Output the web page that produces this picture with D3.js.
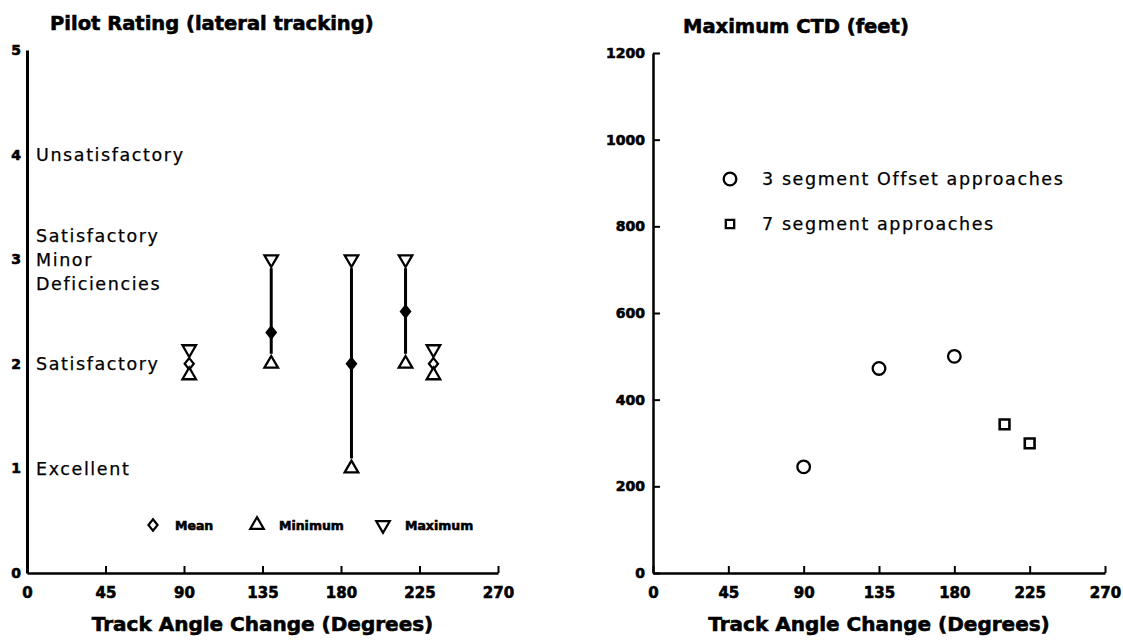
<!DOCTYPE html>
<html>
<head>
<meta charset="utf-8">
<script src="https://cdn.jsdelivr.net/npm/d3@7"></script>
<style>
  html, body { margin: 0; padding: 0; background: #fff; }
  svg { display: block; }
  .bold { font-family: "DejaVu Sans", sans-serif; font-weight: bold; fill: #000; stroke: #000; stroke-width: 0.6px; }
  .reg { font-family: "DejaVu Sans", sans-serif; fill: #000; letter-spacing: 1.6px; stroke: #000; stroke-width: 0.25px; }
</style>
</head>
<body>
<svg id="chart" width="1123" height="641"></svg>
<script>
// ---------- Data ----------
// Left chart: pilot rating (lateral tracking)
const ratingAngles = [93, 140, 186, 217, 233];
const ratingMin  = [1.89, 2, 1, 2, 1.89];
const ratingMean = [2, 2.3, 2, 2.5, 2];
const ratingMax  = [2.14, 3, 3, 3, 2.14];
const ratingTicks = [0, 1, 2, 3, 4, 5];
const ratingLevels = [4, 3, 2, 1];
const ratingNames = [["Unsatisfactory"], ["Satisfactory", "Minor", "Deficiencies"], ["Satisfactory"], ["Excellent"]];
const ratingLegend = ["Mean", "Minimum", "Maximum"];

// Right chart: maximum CTD (feet)
const offsetAngles = [90, 135, 180];
const offsetCTD = [245, 472, 500];
const sevenAngles = [210, 225];
const sevenCTD = [343, 299];
const ctdTicks = [0, 200, 400, 600, 800, 1000, 1200];
const ctdLegend = ["3 segment Offset approaches", "7 segment approaches"];

const angleTicks = [0, 45, 90, 135, 180, 225, 270];
const xTitle = "Track Angle Change (Degrees)";

// ---------- Setup ----------
const svg = d3.select("#chart");

const xL = d3.scaleLinear().domain([0, 270]).range([27, 498]);
const yL = d3.scaleLinear().domain([0, 5]).range([573, 50]);
const xR = d3.scaleLinear().domain([0, 270]).range([653, 1105]);
const yR = d3.scaleLinear().domain([0, 1200]).range([573, 53]);

const diamondType = {
  draw(ctx, size) {
    const h = Math.sqrt(size) * 0.62, w = h * 0.8;
    ctx.moveTo(0, -h); ctx.lineTo(w, 0); ctx.lineTo(0, h); ctx.lineTo(-w, 0); ctx.closePath();
  }
};
const triUp = d3.symbol().type(d3.symbolTriangle).size(80)();
const diamond = d3.symbol().type(diamondType).size(85)();
const circleSym = d3.symbol().type(d3.symbolCircle).size(125)();
const squareSym = d3.symbol().type(d3.symbolSquare).size(95)();

function styleAxis(g, fontSize, width) {
  g.attr("font-family", null).attr("font-size", null);
  g.selectAll("path.domain").attr("stroke", "#000").attr("stroke-width", width);
  g.selectAll(".tick line").attr("stroke", "#000").attr("stroke-width", 2);
  g.selectAll(".tick text").attr("class", "bold").style("font-size", fontSize + "px");
}

// ---------- Left chart ----------
const gL = svg.append("g");

const axL = gL.append("g").attr("transform", `translate(0,${yL(0)})`)
  .call(d3.axisBottom(xL).tickValues(angleTicks).tickSizeInner(-7).tickSizeOuter(0).tickPadding(14));
styleAxis(axL, 15, 2.5);

const ayL = gL.append("g").attr("transform", `translate(${xL(0)},0)`)
  .call(d3.axisLeft(yL).tickValues(ratingTicks).tickSize(0).tickPadding(6).tickFormat(d3.format("d")));
styleAxis(ayL, 14, 3);

gL.append("text").attr("class", "bold").attr("x", 50).attr("y", 30)
  .style("font-size", "19.5px").text("Pilot Rating (lateral tracking)");

gL.append("text").attr("class", "bold").attr("x", (xL(0) + xL(270)) / 2).attr("y", 631)
  .attr("text-anchor", "middle").style("font-size", "20px").text(xTitle);

ratingLevels.forEach((lv, i) => {
  const lines = ratingNames[i];
  const n = lines.length;
  lines.forEach((t, j) => {
    gL.append("text").attr("class", "reg").attr("x", 36)
      .attr("y", yL(lv) + (j - (n - 1) / 2) * 24)
      .attr("dy", "0.36em").style("font-size", "17.5px").text(t);
  });
});

const idx = d3.range(ratingAngles.length);
const hasRange = i => ratingMax[i] - ratingMin[i] >= 0.5;

gL.append("g").selectAll("path").data(idx).join("path")
  .attr("d", diamond)
  .attr("transform", i => `translate(${xL(ratingAngles[i])},${yL(ratingMean[i])})`)
  .attr("fill", i => hasRange(i) ? "#000" : "#fff").attr("stroke", "#000").attr("stroke-width", 2.2);

gL.append("g").selectAll("line").data(idx.filter(hasRange)).join("line")
  .attr("x1", i => xL(ratingAngles[i])).attr("x2", i => xL(ratingAngles[i]))
  .attr("y1", i => yL(ratingMax[i]) + 9).attr("y2", i => yL(ratingMin[i]) - 10)
  .attr("stroke", "#000").attr("stroke-width", 3);

gL.append("g").selectAll("path").data(idx).join("path")
  .attr("d", triUp)
  .attr("transform", i => `translate(${xL(ratingAngles[i])},${yL(ratingMin[i])})`)
  .attr("fill", "#fff").attr("stroke", "#000").attr("stroke-width", 2.3);

gL.append("g").selectAll("path").data(idx).join("path")
  .attr("d", triUp)
  .attr("transform", i => `translate(${xL(ratingAngles[i])},${yL(ratingMax[i])}) rotate(180)`)
  .attr("fill", "#fff").attr("stroke", "#000").attr("stroke-width", 2.3);

const legX = [153, 257, 383];
const legSym = [diamond, triUp, triUp];
const legRot = [0, 0, 180];
const legY = 525;
ratingLegend.forEach((name, i) => {
  gL.append("path").attr("d", legSym[i])
    .attr("transform", `translate(${legX[i]},${legY}) rotate(${legRot[i]})`)
    .attr("fill", "#fff").attr("stroke", "#000").attr("stroke-width", 2.2);
  gL.append("text").attr("class", "bold").attr("x", legX[i] + 22).attr("y", legY)
    .attr("dy", "0.4em").style("font-size", "12.5px").text(name);
});

// ---------- Right chart ----------
const gR = svg.append("g");

const axR = gR.append("g").attr("transform", `translate(0,${yR(0)})`)
  .call(d3.axisBottom(xR).tickValues(angleTicks).tickSizeInner(-7).tickSizeOuter(0).tickPadding(14));
styleAxis(axR, 15, 2.5);

const ayR = gR.append("g").attr("transform", `translate(${xR(0)},0)`)
  .call(d3.axisLeft(yR).tickValues(ctdTicks).tickSizeInner(-7).tickSizeOuter(0).tickPadding(8).tickFormat(d3.format("d")));
styleAxis(ayR, 14, 2.5);

gR.append("text").attr("class", "bold").attr("x", 683).attr("y", 33)
  .style("font-size", "19.5px").text("Maximum CTD (feet)");

gR.append("text").attr("class", "bold").attr("x", (xR(0) + xR(270)) / 2).attr("y", 631)
  .attr("text-anchor", "middle").style("font-size", "20px").text(xTitle);

gR.append("g").selectAll("path").data(d3.range(offsetAngles.length)).join("path")
  .attr("d", circleSym)
  .attr("transform", i => `translate(${xR(offsetAngles[i])},${yR(offsetCTD[i])})`)
  .attr("fill", "none").attr("stroke", "#000").attr("stroke-width", 2.3);

gR.append("g").selectAll("path").data(d3.range(sevenAngles.length)).join("path")
  .attr("d", squareSym)
  .attr("transform", i => `translate(${xR(sevenAngles[i])},${yR(sevenCTD[i])})`)
  .attr("fill", "none").attr("stroke", "#000").attr("stroke-width", 2.6);

const rLegY = [179, 224];
const rLegSym = [circleSym, d3.symbol().type(d3.symbolSquare).size(70)()];
ctdLegend.forEach((name, i) => {
  gR.append("path").attr("d", rLegSym[i])
    .attr("transform", `translate(730,${rLegY[i]})`)
    .attr("fill", "none").attr("stroke", "#000").attr("stroke-width", 2.3);
  gR.append("text").attr("class", "reg").attr("x", 762).attr("y", rLegY[i])
    .attr("dy", "0.36em").style("font-size", "17.5px").text(name);
});
</script>
</body>
</html>
